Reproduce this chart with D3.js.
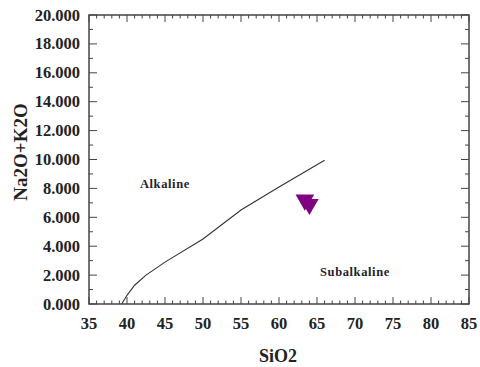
<!DOCTYPE html>
<html>
<head>
<meta charset="utf-8">
<script src="https://cdn.jsdelivr.net/npm/d3@7"></script>
<style>
  body { margin: 0; background: #fff; }
  svg { display: block; }
  text { font-family: "Liberation Serif", "Times New Roman", serif; font-weight: bold; }
</style>
</head>
<body>
<svg id="chart" width="480" height="367"></svg>
<script>
// Irvine & Baragar alkaline / subalkaline divide (SiO2 vs Na2O+K2O)
const divideSiO2 = [39.3, 40, 41, 42.5, 45, 50, 55, 60, 66];
const divideAlk  = [0, 0.6, 1.3, 2.0, 2.9, 4.5, 6.5, 8.1, 9.95];

// Samples
const sampleSiO2 = [63.4, 64.0];
const sampleAlk  = [7.2, 6.9];

const xTicks = [35, 40, 45, 50, 55, 60, 65, 70, 75, 80, 85];
const yTicks = [0, 2, 4, 6, 8, 10, 12, 14, 16, 18, 20];

const regionNames = ["Alkaline", "Subalkaline"];
const regionSiO2 = [41.7, 65.4];
const regionAlk  = [8.0, 1.95];

const svg = d3.select("#chart");
const plotLeft = 89, plotRight = 469, plotTop = 15, plotBottom = 304;

const x = d3.scaleLinear().domain([35, 85]).range([plotLeft, plotRight]);
const y = d3.scaleLinear().domain([0, 20]).range([plotBottom, plotTop]);

const frameColor = "#444";

// minor/major ticks on all four sides, pointing inward
const xMinor = d3.range(35, 86, 1);
const yMinor = d3.range(0, 21, 1);

const g = svg.append("g").attr("stroke", frameColor).attr("stroke-width", 1);
xMinor.forEach(v => {
  const len = v % 5 === 0 ? 7 : 3.5;
  g.append("line").attr("x1", x(v)).attr("x2", x(v)).attr("y1", plotBottom).attr("y2", plotBottom - len);
  g.append("line").attr("x1", x(v)).attr("x2", x(v)).attr("y1", plotTop).attr("y2", plotTop + len);
});
yMinor.forEach(v => {
  const len = v % 2 === 0 ? 8 : 4;
  g.append("line").attr("y1", y(v)).attr("y2", y(v)).attr("x1", plotLeft).attr("x2", plotLeft + len);
  g.append("line").attr("y1", y(v)).attr("y2", y(v)).attr("x1", plotRight).attr("x2", plotRight - len);
});

svg.append("rect")
  .attr("x", plotLeft).attr("y", plotTop)
  .attr("width", plotRight - plotLeft).attr("height", plotBottom - plotTop)
  .attr("fill", "none").attr("stroke", frameColor).attr("stroke-width", 1.5);

// tick labels
svg.append("g").selectAll("text").data(xTicks).join("text")
  .attr("x", d => x(d)).attr("y", 329)
  .attr("text-anchor", "middle")
  .attr("font-size", 16.5).attr("fill", "#222")
  .text(d => d);

svg.append("g").selectAll("text").data(yTicks).join("text")
  .attr("x", 80).attr("y", d => y(d) + 5.5)
  .attr("text-anchor", "end")
  .attr("font-size", 16.5).attr("fill", "#222")
  .text(d => d3.format(".3f")(d));

// axis titles
svg.append("text")
  .attr("x", 278).attr("y", 362)
  .attr("text-anchor", "middle").attr("font-size", 18).attr("fill", "#222")
  .text("SiO2");

svg.append("text")
  .attr("transform", "translate(27,152) rotate(-90)")
  .attr("text-anchor", "middle").attr("font-size", 19).attr("fill", "#222")
  .text("Na2O+K2O");

// dividing line
const line = d3.line().x(d => x(d[0])).y(d => y(d[1]));
svg.append("path")
  .datum(d3.zip(divideSiO2, divideAlk))
  .attr("d", line)
  .attr("fill", "none").attr("stroke", "#333").attr("stroke-width", 1.1);

// region labels
svg.append("g").selectAll("text").data(regionNames).join("text")
  .attr("x", (d, i) => x(regionSiO2[i]))
  .attr("y", (d, i) => y(regionAlk[i]))
  .attr("font-size", 12.5).attr("letter-spacing", 0.6).attr("fill", "#1e1e2e")
  .text(d => d);

// sample markers: downward triangles
const tri = d3.symbol().type(d3.symbolTriangle).size(150);
svg.append("g").selectAll("path").data(d3.zip(sampleSiO2, sampleAlk)).join("path")
  .attr("d", tri)
  .attr("transform", d => `translate(${x(d[0])},${y(d[1])}) rotate(180)`)
  .attr("fill", "#800080");
</script>
</body>
</html>
